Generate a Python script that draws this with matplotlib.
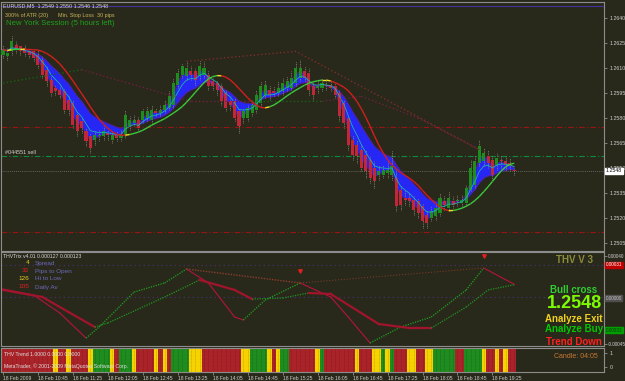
import numpy as np
import pandas as pd
import matplotlib
matplotlib.use("Agg")
import matplotlib.pyplot as plt
from matplotlib.collections import LineCollection

W, H = 625, 381
BG = "#29291b"
FRAME = "#8c8c8c"
FONT = "Liberation Sans"

# EURUSD M5, 18 Feb 2009 10:05 .. 19:50
opens = [
    1.2618, 1.2617, 1.2620, 1.2624, 1.2623, 1.2622, 1.2620, 1.2620, 1.2618, 1.2615,
    1.2609, 1.2603, 1.2598, 1.2597, 1.2596, 1.2591, 1.2589, 1.2582, 1.2578, 1.2572,
    1.2569, 1.2567, 1.2569, 1.2569, 1.2571, 1.2567, 1.2570, 1.2568, 1.2570, 1.2575,
    1.2577, 1.2579, 1.2579, 1.2580, 1.2579, 1.2584, 1.2583, 1.2585, 1.2586, 1.2588,
    1.2600, 1.2606, 1.2605, 1.2608, 1.2608, 1.2605, 1.2606, 1.2606, 1.2602, 1.2601,
    1.2599, 1.2595, 1.2590, 1.2590, 1.2584, 1.2580, 1.2580, 1.2583, 1.2585, 1.2589,
    1.2594, 1.2597, 1.2596, 1.2595, 1.2596, 1.2598, 1.2598, 1.2601, 1.2604, 1.2608,
    1.2607, 1.2599, 1.2598, 1.2598, 1.2600, 1.2600, 1.2599, 1.2595, 1.2589, 1.2580,
    1.2567, 1.2564, 1.2561, 1.2558, 1.2555, 1.2550, 1.2546, 1.2546, 1.2547, 1.2546,
    1.2544, 1.2537, 1.2532, 1.2532, 1.2531, 1.2530, 1.2527, 1.2522, 1.2520, 1.2521,
    1.2523, 1.2530, 1.2526, 1.2530, 1.2530, 1.2529, 1.2529, 1.2537, 1.2540, 1.2553,
    1.2554, 1.2557, 1.2555, 1.2552, 1.2555, 1.2554, 1.2553, 1.2549,
]
closes = [
    1.2621, 1.2619, 1.2626, 1.2621, 1.2620, 1.2619, 1.2618, 1.2616, 1.2612, 1.2606,
    1.2602, 1.2595, 1.2596, 1.2594, 1.2585, 1.2585, 1.2576, 1.2572, 1.2574, 1.2566,
    1.2562, 1.2570, 1.2570, 1.2572, 1.2570, 1.2570, 1.2568, 1.2570, 1.2582, 1.2579,
    1.2579, 1.2574, 1.2584, 1.2584, 1.2585, 1.2583, 1.2585, 1.2588, 1.2593, 1.2601,
    1.2607, 1.2611, 1.2610, 1.2606, 1.2603, 1.2611, 1.2610, 1.2599, 1.2599, 1.2597,
    1.2590, 1.2586, 1.2588, 1.2580, 1.2575, 1.2584, 1.2586, 1.2588, 1.2594, 1.2599,
    1.2600, 1.2594, 1.2595, 1.2598, 1.2601, 1.2602, 1.2604, 1.2610, 1.2610, 1.2604,
    1.2597, 1.2594, 1.2599, 1.2601, 1.2599, 1.2598, 1.2594, 1.2581, 1.2577, 1.2564,
    1.2558, 1.2557, 1.2550, 1.2548, 1.2544, 1.2542, 1.2548, 1.2549, 1.2549, 1.2551,
    1.2527, 1.2528, 1.2531, 1.2530, 1.2525, 1.2523, 1.2518, 1.2517, 1.2524, 1.2526,
    1.2532, 1.2528, 1.2532, 1.2528, 1.2531, 1.2531, 1.2538, 1.2550, 1.2554, 1.2563,
    1.2559, 1.2553, 1.2546, 1.2556, 1.2554, 1.2552, 1.2551, 1.2548,
]
highs = [
    1.2624, 1.2622, 1.2629, 1.2626, 1.2624, 1.2624, 1.2622, 1.2621, 1.2621, 1.2617,
    1.2611, 1.2605, 1.2600, 1.2599, 1.2598, 1.2593, 1.2591, 1.2584, 1.2580, 1.2574,
    1.2571, 1.2572, 1.2573, 1.2575, 1.2573, 1.2572, 1.2572, 1.2573, 1.2585, 1.2581,
    1.2582, 1.2581, 1.2586, 1.2587, 1.2588, 1.2586, 1.2588, 1.2591, 1.2596, 1.2604,
    1.2610, 1.2613, 1.2614, 1.2611, 1.2610, 1.2615, 1.2614, 1.2609, 1.2604, 1.2603,
    1.2601, 1.2597, 1.2592, 1.2592, 1.2586, 1.2586, 1.2588, 1.2591, 1.2597, 1.2602,
    1.2603, 1.2600, 1.2599, 1.2602, 1.2604, 1.2605, 1.2608, 1.2614, 1.2615, 1.2611,
    1.2610, 1.2602, 1.2603, 1.2604, 1.2603, 1.2603, 1.2601, 1.2597, 1.2591, 1.2582,
    1.2570, 1.2567, 1.2564, 1.2561, 1.2557, 1.2554, 1.2552, 1.2552, 1.2555, 1.2561,
    1.2549, 1.2540, 1.2537, 1.2535, 1.2533, 1.2532, 1.2529, 1.2525, 1.2527, 1.2529,
    1.2535, 1.2533, 1.2536, 1.2533, 1.2534, 1.2534, 1.2540, 1.2555, 1.2558, 1.2567,
    1.2562, 1.2561, 1.2558, 1.2559, 1.2558, 1.2557, 1.2556, 1.2550,
]
lows = [
    1.2616, 1.2615, 1.2618, 1.2619, 1.2618, 1.2617, 1.2616, 1.2614, 1.2610, 1.2604,
    1.2599, 1.2593, 1.2594, 1.2592, 1.2583, 1.2582, 1.2574, 1.2569, 1.2571, 1.2563,
    1.2559, 1.2564, 1.2566, 1.2567, 1.2567, 1.2565, 1.2566, 1.2566, 1.2568, 1.2573,
    1.2575, 1.2572, 1.2577, 1.2578, 1.2577, 1.2581, 1.2581, 1.2583, 1.2585, 1.2586,
    1.2598, 1.2604, 1.2603, 1.2603, 1.2600, 1.2603, 1.2604, 1.2597, 1.2597, 1.2594,
    1.2588, 1.2584, 1.2585, 1.2578, 1.2571, 1.2577, 1.2578, 1.2581, 1.2583, 1.2587,
    1.2592, 1.2591, 1.2593, 1.2593, 1.2594, 1.2596, 1.2597, 1.2599, 1.2602, 1.2602,
    1.2594, 1.2591, 1.2595, 1.2596, 1.2597, 1.2596, 1.2592, 1.2578, 1.2574, 1.2561,
    1.2555, 1.2553, 1.2548, 1.2544, 1.2541, 1.2538, 1.2543, 1.2544, 1.2544, 1.2543,
    1.2524, 1.2525, 1.2528, 1.2527, 1.2522, 1.2520, 1.2514, 1.2514, 1.2518, 1.2519,
    1.2521, 1.2525, 1.2524, 1.2526, 1.2527, 1.2527, 1.2527, 1.2536, 1.2538, 1.2551,
    1.2551, 1.2550, 1.2543, 1.2549, 1.2550, 1.2549, 1.2548, 1.2546,
]

time_labels = ["18 Feb 2009", "18 Feb 10:45", "18 Feb 11:25", "18 Feb 12:05",
               "18 Feb 12:45", "18 Feb 13:25", "18 Feb 14:05", "18 Feb 14:45",
               "18 Feb 15:25", "18 Feb 16:05", "18 Feb 16:45", "18 Feb 17:25",
               "18 Feb 18:05", "18 Feb 18:45", "18 Feb 19:25"]
price_ticks = [1.2640, 1.2625, 1.2610, 1.2595, 1.2580, 1.2565, 1.2550, 1.2535, 1.2520, 1.2505]

# horizontal levels on the price chart
top_level = 1.26474
sl_levels = [1.25746, 1.25116]
order_level = 1.25572
bid = 1.2548

# dotted lines drawn on the price chart (bar index, price)
trend_bars = [42, 67, 109]
trend_prices = [1.2614, 1.2620, 1.2561]
long_bars = [0, 18, 43, 57, 73, 82, 95, 109]
long_prices = [1.2601, 1.2609, 1.2590, 1.2590, 1.2590, 1.2593, 1.2580, 1.2561]

# THVTrix lines (bar index, value * 1e-5)
fast_bars = [0, 7, 13, 19, 22, 30, 37, 42, 47, 53, 55, 60, 68, 75, 79, 84, 91, 98, 106, 110, 117]
fast_vals = [8.1, 2.3, -15.1, -39.4, -28.7, 5.2, 14.0, 27.5, 14.0, -19.0, -21.9, -2.5,
             14.0, 0.4, -19.0, -44.2, -28.7, -19.0, 7.2, 28.5, 12.7]
slow_bars = [0, 9, 15, 21, 24, 37, 45, 53, 57, 64, 70, 75, 86, 93, 98, 106, 111, 117]
slow_vals = [7.2, 0.4, -14.2, -28.7, -24.8, 0.4, 16.9, 7.2, -1.6, -0.6, 4.3, 3.3,
             -25.8, -29.7, -29.7, -9.3, 7.2, 12.3]
trix_levels = [31.4, 0.0]

# THV trend bar states (R = down, G = up, Y = neutral)
trend_state = list("RRRRRRRRRRRRYRRYRRRRYGGGGYRGGGYRRRRYRYRGGGGYYYRRRRRRRRRYYGGGGYRYGG"
                   "RRRRRRYGRRRRRRRYRRRYYGYGRRRYYRRYYGGGGGRRGGGGYRRYRYRR")

n = len(closes)
x = np.arange(n)

fig = plt.figure(figsize=(W / 100, H / 100), dpi=100)
fig.patch.set_facecolor(BG)


def px_axes(x0, y0, x1, y1):
    ax = fig.add_axes([x0 / W, 1 - y1 / H, (x1 - x0) / W, (y1 - y0) / H])
    ax.set_facecolor(BG)
    for s in ax.spines.values():
        s.set_color(FRAME)
        s.set_linewidth(0.8)
    ax.set_xlim(-0.343, 137.53)
    return ax


def ftext(xp, yp, s, **kw):
    kw.setdefault("family", FONT)
    kw.setdefault("va", "center")
    fig.text(xp / W, 1 - yp / H, s, **kw)


main = px_axes(1.5, 2, 604, 251)
ind = px_axes(1.5, 252, 604, 346)
trd = px_axes(1.5, 348, 604, 372)

# ---- price chart ----
main.set_ylim(1.25002, 1.26496)
main.axhline(top_level, color="#46329b", lw=0.8)
for lv in sl_levels:
    main.axhline(lv, color="#961414", lw=0.8, ls=(0, (5, 2, 1, 2)))
main.axhline(order_level, color="#0a8c3c", lw=0.8, ls=(0, (5, 2, 1, 2)))
main.axhline(bid, color="#7a7a7a", lw=0.6, ls=(0, (1, 1.5)))

c = pd.Series(closes)
band_a = c.ewm(span=3, adjust=False).mean()
band_b = c.ewm(span=12, adjust=False).mean()
fast_ma = c.ewm(span=6, adjust=False).mean()
slow_ma = c.rolling(7, min_periods=1).mean().rolling(7, min_periods=1).mean()

main.fill_between(x, band_a, band_b, color="#2626f5", lw=0, zorder=2)
main.plot(x, band_a, color="#5a1ea0", lw=0.6, zorder=2)
main.plot(x, band_b, color="#5a1ea0", lw=0.6, zorder=2)

o = np.array(opens)
cl = np.array(closes)
up = cl >= o
main.vlines(x, lows, highs, color="#8a8a78", lw=0.6, ls=(0, (1, 1)), zorder=3)
body_lo = np.minimum(o, cl)
body_h = np.maximum(np.abs(cl - o), 0.00005)
main.bar(x, body_h, bottom=body_lo, width=0.7,
         color=np.where(up, "#1e8c1e", "#c0283a"), lw=0, zorder=3)

main.plot(x, fast_ma, color="#20b0b0", lw=0.6, zorder=4)

slope = np.diff(slow_ma.values)
seg_cols = []
for i in range(len(slope)):
    if i > 0 and np.sign(slope[i]) != np.sign(slope[i - 1]):
        seg_cols.append("#f0e020")
    elif slope[i] > 0:
        seg_cols.append("#3cc83c")
    else:
        seg_cols.append("#d21e1e")
pts = np.column_stack([x, slow_ma.values])
segs = np.stack([pts[:-1], pts[1:]], axis=1)
main.add_collection(LineCollection(segs, colors=seg_cols, lw=1.0, zorder=5))

main.plot(trend_bars, trend_prices, color="#8b2d2d", lw=0.9, ls=(0, (1, 2)), zorder=4)
long_cols = ["#0f6e0f", "#7a1e46", "#7a1e46", "#0f6e0f", "#7a1e46", "#7a1e46", "#7a1e46"]
for i in range(len(long_bars) - 1):
    main.plot(long_bars[i:i + 2], long_prices[i:i + 2], color=long_cols[i],
              lw=0.9, ls=(0, (1, 2)), zorder=4)

main.yaxis.tick_right()
main.set_yticks(price_ticks)
main.set_yticklabels(["%.4f" % p for p in price_ticks])
main.tick_params(axis="y", colors=FRAME, labelcolor="#d0d0d0", length=2.5,
                 width=0.6, labelsize=3.8, pad=1.5)
for lab in main.get_yticklabels():
    lab.set_family(FONT)
main.set_xticks([])

# ---- THVTrix panel ----
ind.set_ylim(-0.000471, 0.000440)
for lv in trix_levels:
    ind.axhline(lv * 1e-5, color="#4b2d82", lw=0.8, ls=(0, (1, 3)))


def trix_line(bars, vals, up_style, down_style):
    for i in range(len(bars) - 1):
        st = up_style if vals[i + 1] > vals[i] else down_style
        ind.plot(bars[i:i + 2], [vals[i] * 1e-5, vals[i + 1] * 1e-5], **st)


trix_line(fast_bars, fast_vals,
          dict(color="#1ea01e", lw=0.9, ls=(0, (1, 1))),
          dict(color="#b4143c", lw=0.8))
trix_line(slow_bars, slow_vals,
          dict(color="#1e961e", lw=0.9, ls=(0, (1, 1))),
          dict(color="#a0142d", lw=1.6))
pk = [fast_bars.index(42), fast_bars.index(68), fast_bars.index(110)]
ind.plot([42, 68], [fast_vals[pk[0]] * 1e-5, fast_vals[pk[1]] * 1e-5],
         color="#8b3c2d", lw=1.0, ls=(0, (1, 1)))
ind.plot([68, 110], [fast_vals[pk[1]] * 1e-5, fast_vals[pk[2]] * 1e-5],
         color="#8b3c2d", lw=0.7, ls=(0, (1, 2)))
ind.plot([68, 110], [25.6e-5, 40.2e-5], ls="none", marker="v", ms=2.5,
         color="#e02020")

ind.yaxis.tick_right()
ind.set_yticks([0.00040, -0.00045])
ind.set_yticklabels(["0.00040", "-0.00045"])
ind.tick_params(axis="y", colors=FRAME, labelcolor="#d0d0d0", length=2,
                width=0.6, labelsize=3.3, pad=1)
for lab in ind.get_yticklabels():
    lab.set_family(FONT)
ind.set_xticks([])

# ---- THV trend bars ----
trd.set_ylim(-0.357, 1.357)
state_col = {"R": "#aa2328", "G": "#1e8c1e", "Y": "#f5d200"}
trd.bar(x, 1.714, bottom=-0.357, width=1.0,
        color=[state_col[s] for s in trend_state], lw=0)
trd.vlines(x, -0.357, 1.357, color="#000000", alpha=0.25, lw=0.5, ls=(0, (1, 1)))
trd.yaxis.tick_right()
trd.set_yticks([1, 0])
trd.set_yticklabels(["1", "0"])
trd.tick_params(axis="y", colors=FRAME, labelcolor="#d0d0d0", length=2.5,
                width=0.6, labelsize=3.8, pad=1.5)
trd.set_xticks(np.arange(0, n, 8)[:len(time_labels)])
trd.set_xticklabels(time_labels)
trd.tick_params(axis="x", colors=FRAME, labelcolor="#d0d0d0", length=2,
                width=0.6, labelsize=3.6, pad=1)
for lab in trd.get_xticklabels():
    lab.set_family(FONT)
    lab.set_ha("left")
for lab in trd.get_yticklabels():
    lab.set_family(FONT)

# ---- texts ----
ftext(3, 6, "EURUSD,M5  1.2549 1.2550 1.2546 1.2548", color="#d8d8d8", fontsize=3.9)
ftext(5, 16, "300% of ATR (20)", color="#c8b45a", fontsize=3.9)
ftext(58, 16, "Min. Stop Loss", color="#c8b45a", fontsize=3.9)
ftext(97, 16, "30 pips", color="#c8b45a", fontsize=3.9)
ftext(6, 23.5, "New York Session (5 hours left)", color="#1ea01e", fontsize=5.6)
ftext(5, 153, "#044551 sell", color="#d0d0d0", fontsize=3.9)
ftext(605.5, 171, "1.2548", color="black", fontsize=3.8,
      bbox=dict(facecolor="white", edgecolor="white", pad=0.6))

ftext(3, 257, "THVTrix v4.01 0.000127 0.000123", color="#d8d8d8", fontsize=3.7)
legend_rows = [("4", "#e6c81e", "Spread"), ("33", "#e02020", "Pips to Open"),
               ("126", "#e6c81e", "Hi to Low"), ("105", "#e02020", "Daily Av")]
for k, (num, col, name) in enumerate(legend_rows):
    yy = 263 + 8 * k
    ftext(29, yy, num, color=col, fontsize=4.6, ha="right")
    ftext(35, yy, name, color="#6a6ab8", fontsize=4.6)

ftext(605.5, 265, "0.00031", color="white", fontsize=3.3,
      bbox=dict(facecolor="#c00000", edgecolor="#c00000", pad=0.5))
ftext(605.5, 298, "0.00000", color="#c0c0c0", fontsize=3.3,
      bbox=dict(facecolor="#505050", edgecolor="#505050", pad=0.5))
ftext(605.5, 330, "0.00033", color="#103010", fontsize=3.3,
      bbox=dict(facecolor="#00a000", edgecolor="#00a000", pad=0.5))

ftext(575, 260, "THV V 3", color="#8c8c3c", fontsize=7, ha="center", weight="bold")
ftext(574, 290, "Bull cross", color="#32cd32", fontsize=7, ha="center", weight="bold")
ftext(574, 303, "1.2548", color="#7cfc00", fontsize=13, ha="center", weight="bold")
ftext(574, 319, "Analyze Exit", color="#f0d020", fontsize=7, ha="center", weight="bold")
ftext(574, 329, "Analyze Buy", color="#00c800", fontsize=7, ha="center", weight="bold")
ftext(574, 342, "Trend Down", color="#ff2020", fontsize=7, ha="center", weight="bold")
ftext(598, 356, "Candle: 04:05", color="#c87832", fontsize=5, ha="right")

ftext(4, 354, "THV Trend 1.0000 0.0000 0.0000", color="#e0e0e0", fontsize=3.7)
ftext(4, 366, "MetaTrader, \u00a9 2001-2009 MetaQuotes Software Corp.", color="#e0e0e0",
      fontsize=3.7)

fig.savefig("out.png", dpi=100, facecolor=BG)
